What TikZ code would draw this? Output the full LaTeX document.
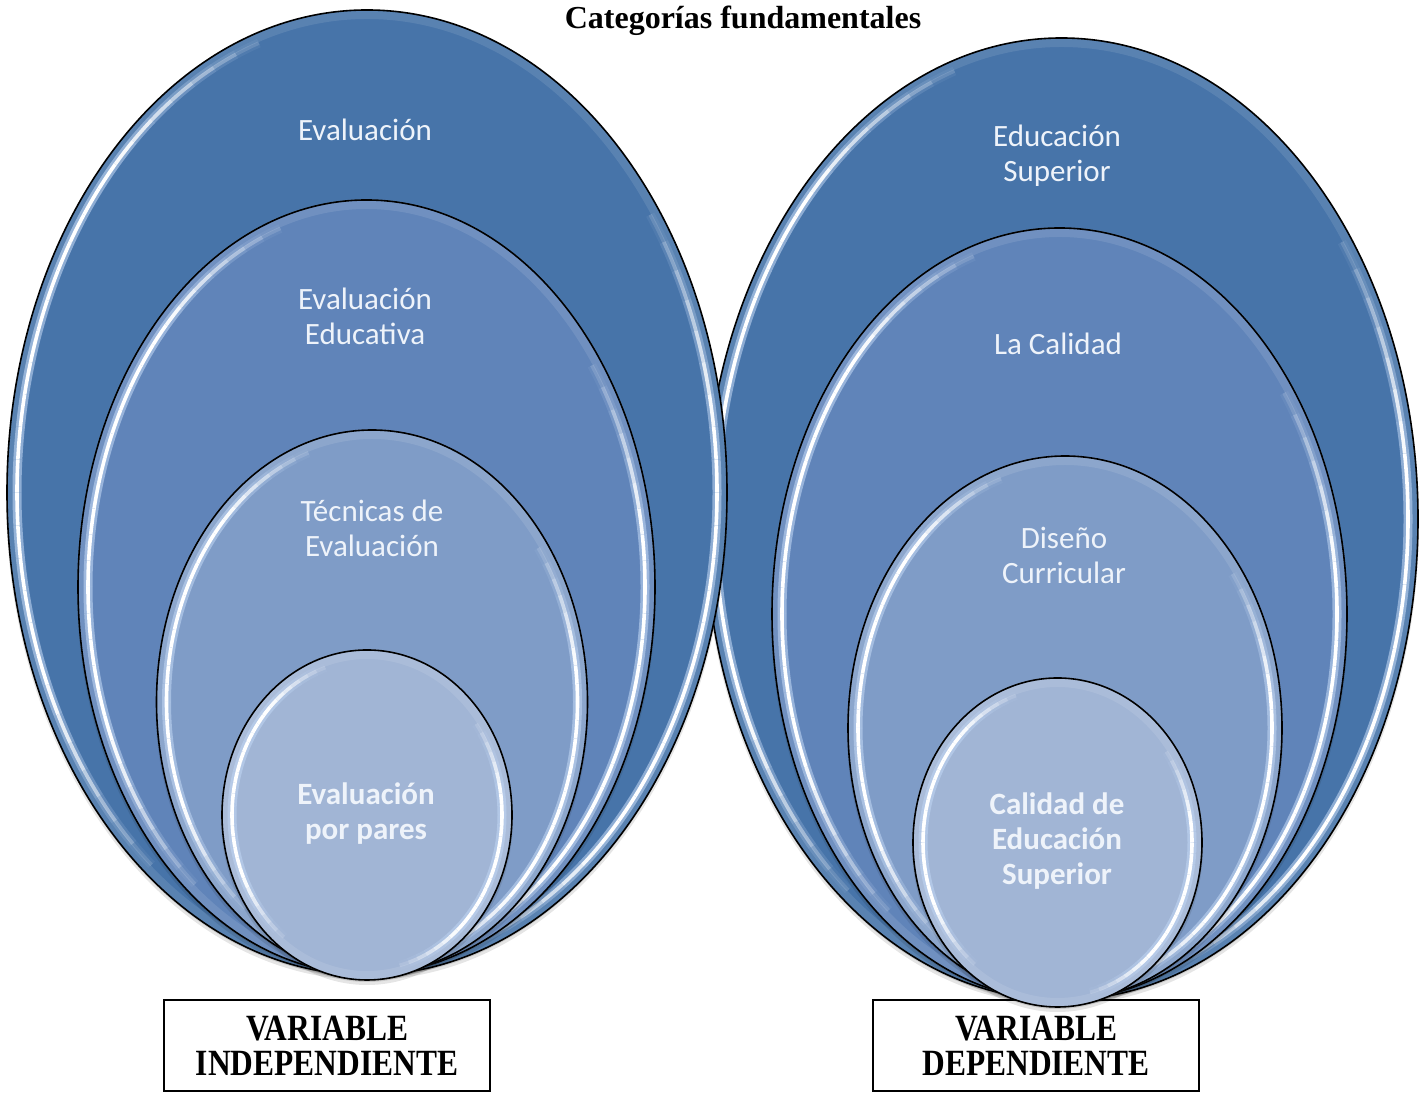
\documentclass[tikz,border=0pt]{standalone}
\usepackage{fontspec}
\setmainfont{Liberation Serif}
\newfontfamily\calib{Carlito}
\newfontfamily\narrowserif[FakeStretch=0.85]{Liberation Serif}

\definecolor{ringA}{RGB}{71,116,169}
\definecolor{ringB}{RGB}{96,132,185}
\definecolor{ringC}{RGB}{127,156,199}
\definecolor{ringD}{RGB}{161,181,213}
\definecolor{txtc}{RGB}{238,243,250}
\definecolor{glowc}{RGB}{190,212,242}

\tikzset{
  hlglow/.style={glowc, line width=4.5pt, line cap=butt},
  hlcore/.style={white, line width=1.8pt, line cap=butt},
  rim/.style={black, line width=0.8pt},
  lbl/.style={font=\calib\fontsize{15.5}{17.5}\selectfont, text=txtc, align=center, inner sep=0pt},
  lblb/.style={lbl, font=\calib\bfseries\fontsize{15.5}{17.5}\selectfont},
  varbox/.style={draw=black, line width=1pt, fill=white, minimum width=163pt, minimum height=45.5pt,
    align=center, inner sep=0pt, font=\narrowserif\bfseries\fontsize{18.5}{17.5}\selectfont}
}

% glossy ellipse: centre x, centre y, x radius, y radius, fill colour
\newcommand{\glossyell}[5]{%
  \pgfmathsetmacro\gx{#1}\pgfmathsetmacro\gy{#2}%
  \pgfmathsetmacro\grx{#3}\pgfmathsetmacro\gry{#4}%
  \pgfmathsetmacro\hrx{#3-10}\pgfmathsetmacro\hry{#4-10}%
  \fill[black,opacity=0.10] (\gx,\gy-4) ellipse[x radius=\grx+1, y radius=\gry+1];
  \fill[black,opacity=0.12] (\gx,\gy-2) ellipse[x radius=\grx, y radius=\gry];
  \fill[#5] (\gx,\gy) ellipse[x radius=\grx, y radius=\gry];
  \draw[white,opacity=0.10,line width=5pt] (\gx,\gy) ellipse[x radius=\grx-4, y radius=\gry-4];
  % highlight on the left flank
  \foreach \a in {108,112,...,228}{%
    \pgfmathsetmacro\op{max(0,min(1,min((\a-104)/30,(232-\a)/30)))}%
    \draw[hlglow, opacity=0.6*\op] (\gx,\gy) ++(\a:{\hrx} and {\hry})
      arc[start angle=\a, delta angle=4, x radius=\hrx, y radius=\hry];
    \draw[hlcore, opacity=\op] (\gx,\gy) ++(\a:{\hrx} and {\hry})
      arc[start angle=\a, delta angle=4, x radius=\hrx, y radius=\hry];
  }
  % highlight on the right flank
  \foreach \a in {-76,-72,...,32}{%
    \pgfmathsetmacro\op{max(0,min(1,min((\a+80)/30,(36-\a)/30)))}%
    \draw[hlglow, opacity=0.6*\op] (\gx,\gy) ++(\a:{\hrx} and {\hry})
      arc[start angle=\a, delta angle=4, x radius=\hrx, y radius=\hry];
    \draw[hlcore, opacity=\op] (\gx,\gy) ++(\a:{\hrx} and {\hry})
      arc[start angle=\a, delta angle=4, x radius=\hrx, y radius=\hry];
  }
  \draw[rim] (\gx,\gy) ellipse[x radius=\grx, y radius=\gry];
}

\begin{document}
\begin{tikzpicture}[x=0.5pt,y=0.5pt]
\useasboundingbox[fill=white] (0,0) rectangle (1424,1095);

% title
\node[font=\bfseries\fontsize{16}{19}\selectfont, anchor=base, inner sep=0pt] (title) at (743,1066) {Categorías fundamentales};

% boxes under the targets
\node[varbox] (vdep) at (1036,49.5) {VARIABLE\\DEPENDIENTE};
\node[varbox] (vind) at (327,49.5) {VARIABLE\\INDEPENDIENTE};

% right target (dependent variable)
\glossyell{1061.5}{576}{356.5}{481}{ringA}
\glossyell{1059.5}{481}{287.5}{386}{ringB}
\glossyell{1065}{367}{217}{272}{ringC}
\glossyell{1057.5}{252.5}{144.5}{164.5}{ringD}

% left target (independent variable)
\glossyell{367}{602.5}{360}{482.5}{ringA}
\glossyell{366.5}{508}{288.5}{387}{ringB}
\glossyell{372}{393}{215.5}{272}{ringC}
\glossyell{367}{280}{145}{165}{ringD}

% labels of the left target
\node[lbl] (l1) at (365,965) {Evaluación};
\node[lbl] (l2) at (365,779) {Evaluación\\Educativa};
\node[lbl] (l3) at (372,567) {Técnicas de\\Evaluación};
\node[lblb] (l4) at (366,281) {Evaluación\\por pares};

% labels of the right target
\node[lbl] (r1) at (1057,939) {Educación\\Superior};
\node[lbl] (r2) at (1058,751) {La Calidad};
\node[lbl] (r3) at (1064,540) {Diseño\\Curricular};
\node[lblb] (r4) at (1057,254) {Calidad de\\Educación\\Superior};
\end{tikzpicture}
\end{document}
